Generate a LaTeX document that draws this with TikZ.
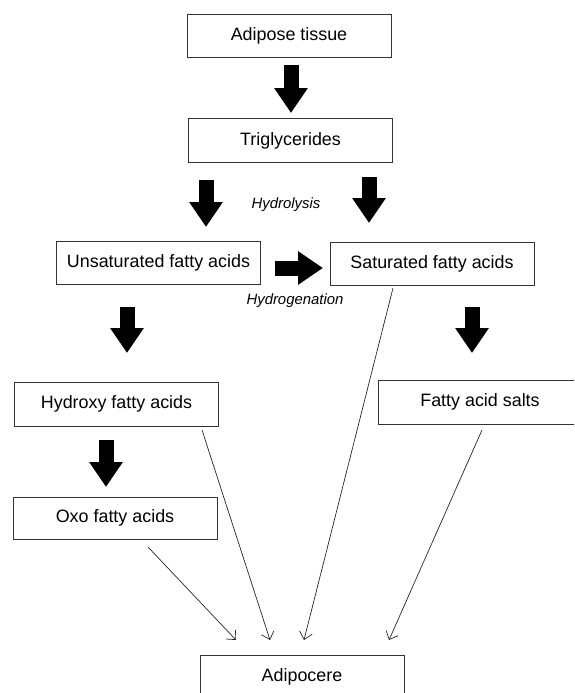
\documentclass[tikz,border=0pt]{standalone}
\usepackage{fontspec}
\setmainfont{Liberation Sans}
\usetikzlibrary{arrows.meta}
\begin{document}
\begin{tikzpicture}[x=1pt,y=-1pt,
  box/.style={draw=black!80, line width=0.8pt, minimum width=204pt, minimum height=43pt, inner sep=0pt,
    font=\fontsize{17.9}{20}\selectfont},
  blockarrow/.style={line width=15pt, -{Triangle[length=25pt,width=32pt]}},
  thinarrow/.style={draw=black!85, line width=0.7pt, -{Straight Barb[length=7pt,width=13pt]}},
  lbl/.style={font=\fontsize{14.9}{17}\selectfont\itshape, inner sep=0pt}]
\path[use as bounding box, clip] (0,0) rectangle (574,693);
\node[box] (adi) at (289,36) {Adipose tissue};
\node[box, minimum height=44pt] (tri) at (290.5,140.5) {Triglycerides};
\node[box] (uns) at (158.5,262.5) {Unsaturated fatty acids};
\node[box] (sat) at (432,263.5) {Saturated fatty acids};
\node[box, minimum height=44pt] (hyd) at (116.5,404) {Hydroxy fatty acids};
\node[box, minimum height=44pt] (salt) at (480,402) {Fatty acid salts};
\node[box, minimum height=42pt] (oxo) at (115,518) {Oxo fatty acids};
\node[box] (adc) at (302,677) {Adipocere};
\node[lbl] (hl) at (286,205) {Hydrolysis};
\node[lbl] (hg) at (295,301) {Hydrogenation};
% block arrows
\coordinate (b1s) at (291,65);  \coordinate (b1e) at (291,113);
\coordinate (b2s) at (206,180); \coordinate (b2e) at (206,227);
\coordinate (b3s) at (369,177); \coordinate (b3e) at (369,223);
\coordinate (b4s) at (275,268); \coordinate (b4e) at (323,268);
\coordinate (b5s) at (127,307); \coordinate (b5e) at (127,353);
\coordinate (b6s) at (106,440); \coordinate (b6e) at (106,487);
\coordinate (b7s) at (472,307); \coordinate (b7e) at (472,353);
\foreach \i in {1,...,7} {\draw[blockarrow] (b\i s) -- (b\i e);}
% thin arrows
\coordinate (t1s) at (148,547); \coordinate (t1e) at (236,640);
\coordinate (t2s) at (202,430); \coordinate (t2e) at (270,640);
\coordinate (t3s) at (393,288); \coordinate (t3e) at (304,640);
\coordinate (t4s) at (482,430); \coordinate (t4e) at (389,640);
\foreach \i in {1,...,4} {\draw[thinarrow] (t\i s) -- (t\i e);}
\end{tikzpicture}
\end{document}
